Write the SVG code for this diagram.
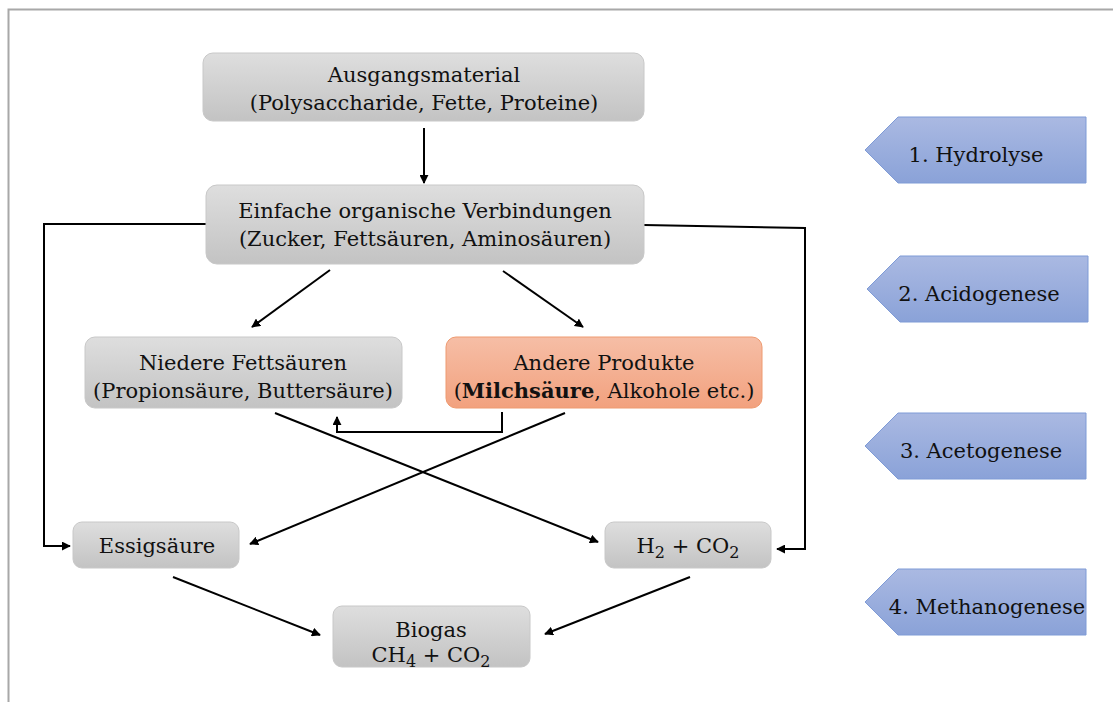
<svg xmlns="http://www.w3.org/2000/svg" width="1113" height="702" viewBox="0 0 1113 702">
<defs>
<linearGradient id="gGray" x1="0" y1="0" x2="0" y2="1"><stop offset="0" stop-color="#dedede"/><stop offset="1" stop-color="#c3c3c3"/></linearGradient>
<linearGradient id="gOrange" x1="0" y1="0" x2="0" y2="1"><stop offset="0" stop-color="#f6bea6"/><stop offset="1" stop-color="#f2a17e"/></linearGradient>
<linearGradient id="gBlue" x1="0" y1="0" x2="0" y2="1"><stop offset="0" stop-color="#aab9e2"/><stop offset="1" stop-color="#8aa2d8"/></linearGradient>
<marker id="ah" viewBox="0 0 10 10" refX="9" refY="5" markerWidth="9" markerHeight="9" markerUnits="userSpaceOnUse" orient="auto"><path d="M0,0 L10,5 L0,10 z" fill="#000"/></marker>
<style>
.box{fill:url(#gGray);stroke:#c8c8c8;stroke-width:1}
.obox{fill:url(#gOrange);stroke:#ee9a70;stroke-width:1}
.stage{fill:url(#gBlue);stroke:#7f9bd6;stroke-width:1}
text{font-family:"DejaVu Serif","Liberation Serif",serif;font-size:21px;fill:#111;text-anchor:middle}
.sub{font-size:16px}
.c{fill:none;stroke:#000;stroke-width:2}
.ca{fill:none;stroke:#000;stroke-width:2;marker-end:url(#ah)}
</style>
</defs>
<rect width="1113" height="702" fill="#fff"/>
<path d="M8.5,702 V9.5 H1113" fill="none" stroke="#a8a8a8" stroke-width="2"/>

<g id="connectors">
<line class="ca" x1="424" y1="128" x2="424" y2="183"/>
<line class="ca" x1="330" y1="270" x2="252" y2="327"/>
<line class="ca" x1="503" y1="271" x2="583" y2="327"/>
<polyline class="ca" points="206,224 44,224 44,546 70,546"/>
<polyline class="ca" points="644,225 805,228 805,549 777,549"/>
<polyline class="ca" points="502,412 502,432 337,432 337,417"/>
<line class="ca" x1="275" y1="413" x2="598" y2="542"/>
<line class="ca" x1="565" y1="413" x2="250" y2="544"/>
<line class="ca" x1="173" y1="577" x2="320" y2="635"/>
<line class="ca" x1="690" y1="577" x2="545" y2="634"/>
</g>

<g id="ausgangsmaterial">
<rect class="box" x="203" y="53" width="441" height="68" rx="10"/>
<text x="424" y="82">Ausgangsmaterial</text>
<text x="424" y="110">(Polysaccharide, Fette, Proteine)</text>
</g>
<g id="einfache">
<rect class="box" x="206" y="185" width="438" height="79" rx="11"/>
<text x="425" y="218">Einfache organische Verbindungen</text>
<text x="425" y="246">(Zucker, Fettsäuren, Aminosäuren)</text>
</g>
<g id="niedere">
<rect class="box" x="85" y="337" width="317" height="71" rx="10"/>
<text x="243" y="370">Niedere Fettsäuren</text>
<text x="243" y="398">(Propionsäure, Buttersäure)</text>
</g>
<g id="andere">
<rect class="obox" x="446" y="337" width="316" height="71" rx="10"/>
<text x="604" y="370">Andere Produkte</text>
<text x="604" y="398">(<tspan font-weight="bold">Milchsäure</tspan>, Alkohole etc.)</text>
</g>
<g id="essigsaeure">
<rect class="box" x="73" y="522" width="166" height="46" rx="9"/>
<text x="157" y="553">Essigsäure</text>
</g>
<g id="h2co2">
<rect class="box" x="605" y="522" width="166" height="46" rx="9"/>
<text x="688" y="553">H<tspan class="sub" dy="5">2</tspan><tspan dy="-5"> + CO</tspan><tspan class="sub" dy="5">2</tspan></text>
</g>
<g id="biogas">
<rect class="box" x="333" y="606" width="197" height="61" rx="9"/>
<text x="431" y="637">Biogas</text>
<text x="431" y="662">CH<tspan class="sub" dy="5">4</tspan><tspan dy="-5"> + CO</tspan><tspan class="sub" dy="5">2</tspan></text>
</g>

<g id="stage1">
<polygon class="stage" points="865,150 898,117 1086,117 1086,183 898,183"/>
<text x="976" y="162">1. Hydrolyse</text>
</g>
<g id="stage2">
<polygon class="stage" points="867,289 900,256 1088,256 1088,322 900,322"/>
<text x="979" y="301">2. Acidogenese</text>
</g>
<g id="stage3">
<polygon class="stage" points="865,446 898,413 1086,413 1086,479 898,479"/>
<text x="981" y="458">3. Acetogenese</text>
</g>
<g id="stage4">
<polygon class="stage" points="865,602 898,569 1086,569 1086,635 898,635"/>
<text x="987" y="614">4. Methanogenese</text>
</g>
</svg>
